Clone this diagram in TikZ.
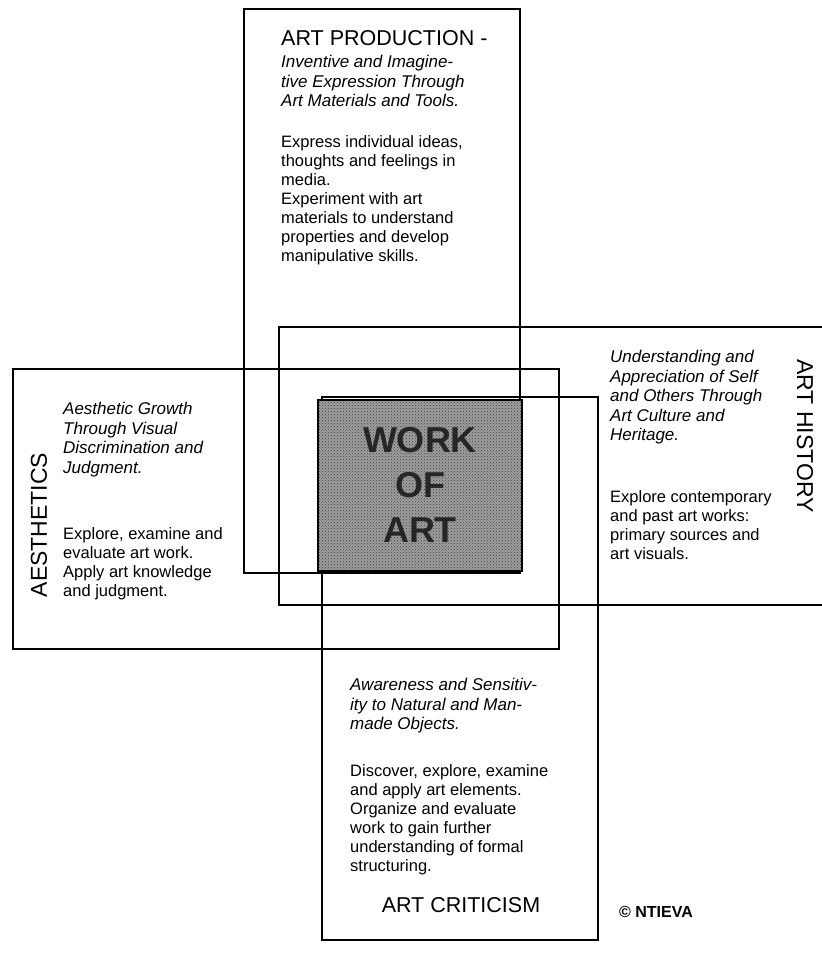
\documentclass[tikz,border=0pt]{standalone}
\usepackage{fontspec}
\setmainfont{Liberation Sans}
\usetikzlibrary{patterns}
\tikzset{
	areabox/.style={line width=1.6pt},%
	artwork/.style={line width=1.6pt,preaction={fill=black!38},pattern=crosshatch dots,pattern color=black!75},%
	heading/.style={font=\fontsize{21.5}{24}\selectfont,inner sep=0pt},%
	sideheading/.style={font=\fontsize{23}{26}\selectfont,inner sep=0pt},%
	aim/.style={font=\fontsize{17}{19.5}\selectfont\itshape,align=left,anchor=north west,inner sep=0pt},%
	detail/.style={font=\fontsize{16.5}{19}\selectfont,align=left,anchor=north west,inner sep=0pt},%
	centre/.style={font=\fontsize{36}{45}\selectfont\bfseries,align=center,text=black!85},%
	credit/.style={font=\fontsize{16}{18}\selectfont\bfseries,inner sep=0pt},%
}

\begin{document}
\begin{tikzpicture}[x=1pt,y=-1pt]
	\useasboundingbox (0,0) rectangle (822,956);
	\clip (0,0) rectangle (822,956);
	% the four areas
	\draw[areabox] (244,9) rectangle (520,573);
	\draw[areabox] (13,369) rectangle (559,649);
	\draw[areabox] (279,327) rectangle (840,605);
	\draw[areabox] (322,397) rectangle (598,940);
	% centre
	\draw[artwork] (318,400) rectangle (522,571);
	\node[centre] (work) at (420,485) {WORK\\OF\\ART};
	% art production
	\node[heading,anchor=west] (production) at (281,38) {ART PRODUCTION -};
	\node[aim] (productionaim) at (281,55) {Inventive and Imagine-\\tive Expression Through\\Art Materials and Tools.};
	\node[detail] (productiondetail) at (281,135) {Express individual ideas,\\thoughts and feelings in\\media.\\Experiment with art\\materials to understand\\properties and develop\\manipulative skills.};
	% aesthetics
	\node[sideheading,rotate=90] (aesthetics) at (39,525) {AESTHETICS};
	\node[aim] (aestheticsaim) at (63,402) {Aesthetic Growth\\Through Visual\\Discrimination and\\Judgment.};
	\node[detail] (aestheticsdetail) at (63,527) {Explore, examine and\\evaluate art work.\\Apply art knowledge\\and judgment.};
	% art history
	\node[sideheading,rotate=-90] (history) at (805,436) {ART HISTORY};
	\node[aim] (historyaim) at (610,350) {Understanding and\\Appreciation of Self\\and Others Through\\Art Culture and\\Heritage.};
	\node[detail] (historydetail) at (610,490) {Explore contemporary\\and past art works:\\primary sources and\\art visuals.};
	% art criticism
	\node[aim] (criticismaim) at (350,678) {Awareness and Sensitiv-\\ity to Natural and Man-\\made Objects.};
	\node[detail] (criticismdetail) at (350,764) {Discover, explore, examine\\and apply art elements.\\Organize and evaluate\\work to gain further\\understanding of formal\\structuring.};
	\node[heading] (criticism) at (461,905) {ART CRITICISM};
	\node[credit] (ntieva) at (656,912) {© NTIEVA};
\end{tikzpicture}
\end{document}
